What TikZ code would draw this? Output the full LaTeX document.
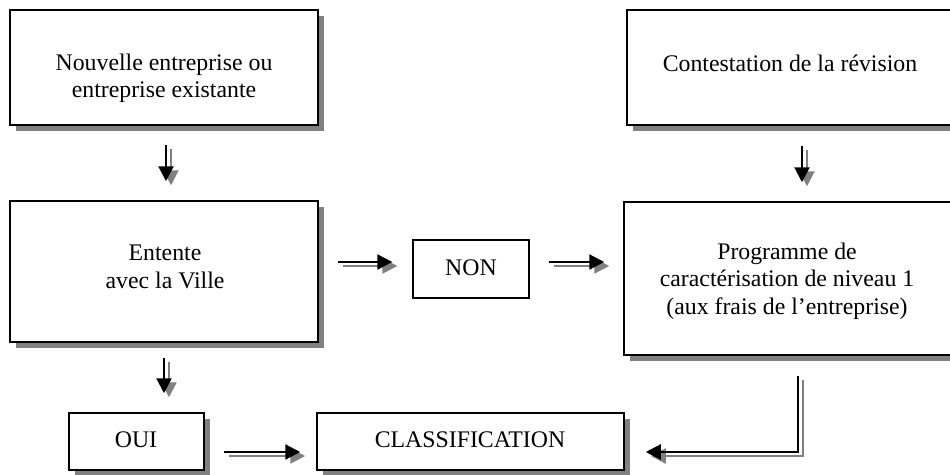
\documentclass[tikz,border=0pt]{standalone}
\usepackage{fontspec}
\setmainfont{Liberation Serif}
\usetikzlibrary{arrows.meta,shadows}
\definecolor{shgray}{RGB}{128,128,128}
\begin{document}
\begin{tikzpicture}[x=1pt,y=-1pt,
  box/.style={draw=black,line width=1.5pt,fill=white,inner sep=0pt,
    drop shadow={shadow xshift=6pt,shadow yshift=-6pt,fill=shgray,opacity=1}},
  plainbox/.style={draw=black,line width=1.3pt,fill=white,inner sep=0pt},
  txt/.style={font=\fontsize{23.8}{27.5}\selectfont,align=center,inner sep=0pt},
  arr/.style={line width=2.2pt,-{Triangle[length=15pt,width=15pt]}},
  arrsh/.style={arr,draw=shgray,transform canvas={shift={(5pt,-4pt)}}}]
\useasboundingbox (0,0) rectangle (950,474);
\clip (0,0) rectangle (950,474);
% boxes
\node[box,minimum width=308pt,minimum height=115pt] (b1) at (164,67.5) {};
\node[box,minimum width=328pt,minimum height=115pt] (b2) at (791,67.5) {};
\node[box,minimum width=308pt,minimum height=141pt] (ent) at (164,271.5) {};
\node[box,minimum width=331pt,minimum height=153pt] (prog) at (789.5,278.5) {};
\node[plainbox,minimum width=116pt,minimum height=58pt] (non) at (471,269) {};
\node[box,minimum width=135pt,minimum height=57pt] (oui) at (136.5,441.5) {};
\node[box,minimum width=307pt,minimum height=57pt] (cls) at (470.5,441.5) {};
% texts
\node[txt] (t1) at (164,78.5) {Nouvelle entreprise ou\\entreprise existante};
\node[txt] (t2) at (790,63) {Contestation de la révision};
\node[txt] (t3) at (165,267) {Entente\\avec la Ville};
\node[txt] (t4) at (787,281) {Programme de\\caractérisation de niveau 1\\(aux frais de l’entreprise)};
\node[txt] (t5) at (471,268) {NON};
\node[txt] (t6) at (136,440) {OUI};
\node[txt] (t7) at (470,440) {CLASSIFICATION};
% arrows: shadows first
\foreach \s in {arrsh,arr}{
  \draw[\s,shorten <=19pt,shorten >=19pt] ([xshift=2pt]b1.south) -- ([xshift=2pt]b1.south |- ent.north);
  \draw[\s,shorten <=20pt,shorten >=19pt] ([xshift=11pt]b2.south) -- ([xshift=11pt]b2.south |- prog.north);
  \draw[\s,shorten <=15pt,shorten >=19pt] (ent.south) -- (ent.south |- oui.north);
  \draw[\s,shorten <=19pt,shorten >=20pt] ([yshift=9.5pt]ent.east) -- ([yshift=9.5pt]ent.east -| non.west);
  \draw[\s,shorten <=19pt,shorten >=19pt] ([yshift=7pt]non.east) -- ([yshift=7pt]non.east -| prog.west);
  \draw[\s,shorten <=19pt,shorten >=16pt] ([yshift=-10.5pt]oui.east) -- ([yshift=-10.5pt]cls.west);
  \draw[\s,shorten <=20pt,shorten >=21pt] ([xshift=8.5pt]prog.south) |- ([yshift=-10.5pt]cls.east);
}
\end{tikzpicture}
\end{document}
